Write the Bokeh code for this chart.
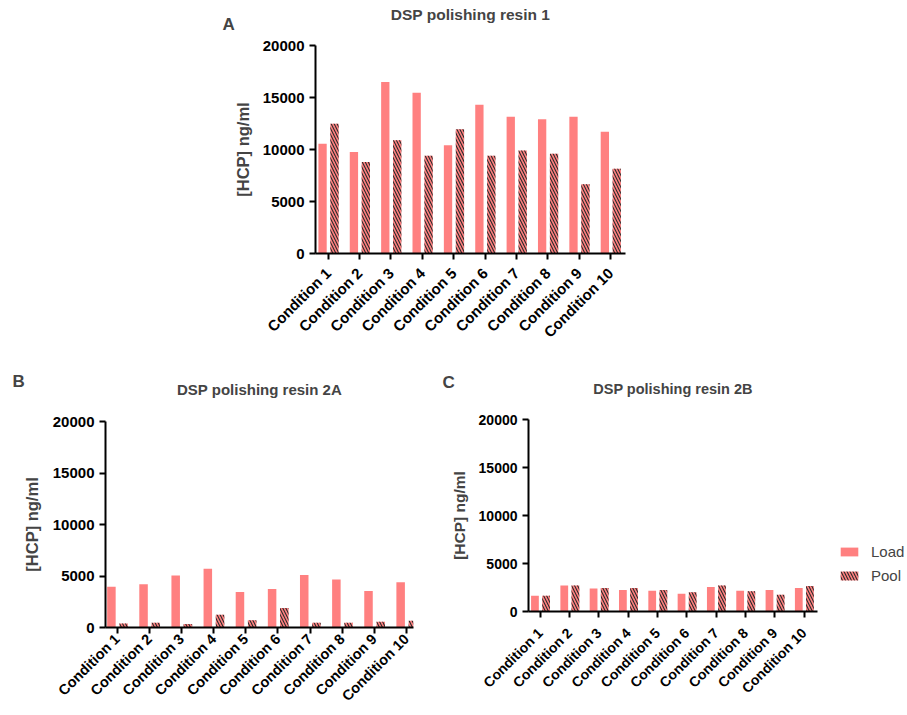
from bokeh.plotting import figure
from bokeh.models import (ColumnDataSource, FixedTicker, Legend, LegendItem,
                          Range1d, Title)
from bokeh.layouts import column, row
from bokeh.transform import dodge
from bokeh.embed import file_html
from bokeh.resources import INLINE
import math

# HCP concentrations (ng/ml) for load and pool fractions per condition
conditions = ["Condition 1", "Condition 2", "Condition 3", "Condition 4",
              "Condition 5", "Condition 6", "Condition 7", "Condition 8",
              "Condition 9", "Condition 10"]

resin1_load = [10550, 9750, 16500, 15450, 10400, 14300, 13150, 12900, 13150, 11700]
resin1_pool = [12480, 8800, 10900, 9400, 11950, 9400, 9900, 9600, 6650, 8150]

resin2a_load = [3950, 4200, 5050, 5700, 3450, 3750, 5100, 4650, 3550, 4400]
resin2a_pool = [400, 450, 350, 1250, 700, 1900, 450, 450, 550, 650]

resin2b_load = [1650, 2700, 2400, 2250, 2150, 1850, 2550, 2150, 2250, 2450]
resin2b_pool = [1650, 2700, 2450, 2450, 2250, 2000, 2700, 2100, 1750, 2650]

series_names = ["Load", "Pool"]
y_ticks = [0, 5000, 10000, 15000, 20000]

LOAD_COLOR = "#FF8080"
HATCH = dict(hatch_pattern="\\", hatch_color="#2a2a2a", hatch_scale=6,
             hatch_weight=1.1)
FONT = "Liberation Sans"


def add_bars(p, load, pool):
    idx = list(range(1, len(conditions) + 1))
    src = ColumnDataSource(dict(x=idx, cond=conditions, load=load, pool=pool))
    rl = p.vbar(x=dodge("x", -0.18, range=p.x_range), top="load", width=0.265,
                source=src, fill_color=LOAD_COLOR, line_color=None)
    rp = p.vbar(x=dodge("x", 0.2, range=p.x_range), top="pool", width=0.265,
                source=src, fill_color=LOAD_COLOR, line_color=None, **HATCH)
    return rl, rp


def make_panel(load, pool, title, letter, size, borders, x_span, fonts,
               heading, x_label_standoff, ylabel_standoff):
    width, height = size
    left, right, top, bottom = borders
    tick_px, cat_px, title_px, label_px = fonts
    letter_first, st_first, st_second, letter_offset = heading
    idx = list(range(1, len(conditions) + 1))

    p = figure(width=width, height=height, output_backend="svg",
               toolbar_location=None, tools="",
               x_range=Range1d(*x_span), y_range=Range1d(0, 20000),
               min_border_left=left, min_border_right=right,
               min_border_top=top, min_border_bottom=bottom)
    p.frame_align = False
    p.outline_line_color = None
    p.xgrid.visible = False
    p.ygrid.visible = False
    p.background_fill_color = "white"
    p.border_fill_color = "white"
    xa = p.below[0]
    ya = p.left[0]

    add_bars(p, load, pool)

    # axes
    for ax in (xa, ya):
        ax.axis_line_width = 2
        ax.axis_line_color = "black"
        ax.major_tick_line_width = 2
        ax.major_tick_line_color = "black"
        ax.major_tick_out = 6
        ax.major_tick_in = 0
        ax.minor_tick_line_color = None
        ax.major_label_text_font = FONT
        ax.major_label_text_font_style = "bold"
        ax.major_label_text_font_size = f"{tick_px}px"
        ax.major_label_text_color = "black"

    ya.ticker = FixedTicker(ticks=y_ticks)
    ya.formatter.use_scientific = False
    ya.major_label_standoff = 5
    ya.axis_label = "[HCP] ng/ml"
    ya.axis_label_text_font = FONT
    ya.axis_label_text_font_style = "bold"
    ya.axis_label_text_font_size = f"{label_px}px"
    ya.axis_label_standoff = ylabel_standoff

    xa.ticker = FixedTicker(ticks=idx)
    xa.major_label_overrides = {i: c for i, c in zip(idx, conditions)}
    xa.major_label_orientation = math.pi / 4
    xa.major_label_standoff = x_label_standoff
    xa.major_label_text_font_size = f"{cat_px}px"

    # panel title and panel letter, stacked above the frame; when the title
    # sits nearest the frame it carries an empty second line as spacing
    p.title.text = ""
    t_main = Title(text=title if letter_first else title + "\n",
                   align="center", vertical_align="bottom",
                   text_font=FONT, text_font_size=f"{title_px}px",
                   text_font_style="bold")
    t_letter = Title(text=letter, align="left", vertical_align="bottom",
                     offset=letter_offset, text_font=FONT,
                     text_font_size="17px", text_font_style="bold")
    first, second = (t_letter, t_main) if letter_first else (t_main, t_letter)
    first.standoff = st_first
    second.standoff = st_second
    p.add_layout(first, "above")
    p.add_layout(second, "above")
    return p


pA = make_panel(resin1_load, resin1_pool, "DSP polishing resin 1", "A",
                (907, 365), (315, 282, 45, 112), (0.595, 10.478),
                (15, 15, 15.5, 16.5), (True, 23.4, -42.7, -93), 11, 8)

pB = make_panel(resin2a_load, resin2a_pool, "DSP polishing resin 2A", "B",
                (435, 350), (105, 22, 56, 88), (0.636, 10.22),
                (15, 14.5, 15, 16.5), (False, 13, -37, -93), 3, 9)

pC = make_panel(resin2b_load, resin2b_pool, "DSP polishing resin 2B", "C",
                (395, 350), (93, 13, 54, 104), (0.6, 10.458),
                (14, 14, 14.5, 15.5), (False, 13.5, -40.8, -86), 13, 8)

# shared legend for the bottom row, drawn in its own narrow strip
# (its bars sit outside the strip's visible range; only the swatches show)
pL = figure(width=77, height=350, output_backend="svg", toolbar_location=None,
            tools="", x_range=Range1d(-1, 0), y_range=Range1d(0, 20000),
            min_border_left=0, min_border_right=0, min_border_top=0,
            min_border_bottom=0)
pL.frame_align = False
pL.axis.visible = False
pL.grid.visible = False
pL.outline_line_color = None
swatch_load, swatch_pool = add_bars(pL, resin2b_load, resin2b_pool)
legend = Legend(items=[LegendItem(label=series_names[0], renderers=[swatch_load]),
                       LegendItem(label=series_names[1], renderers=[swatch_pool])],
                location=(8, 131), orientation="vertical",
                glyph_width=22, glyph_height=11, label_height=12,
                label_standoff=11, spacing=7, padding=0, margin=0,
                border_line_color=None, background_fill_alpha=0,
                label_text_font=FONT, label_text_font_size="15px")
pL.add_layout(legend)

layout = column(pA, row(pB, pC, pL, spacing=0), spacing=0)

open("out.html", "w").write(file_html(layout, INLINE))
